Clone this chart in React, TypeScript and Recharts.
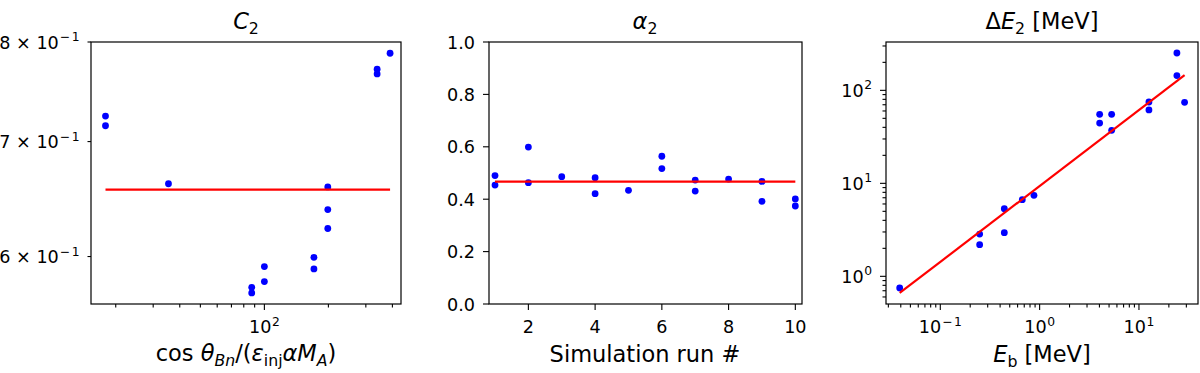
import React from "react";
import { Scatter, ScatterChart, XAxis, YAxis } from "recharts";

const FONT = "DejaVu Sans, Verdana, sans-serif";
const FS = 17.6; // tick labels
const LFS = 22.5; // titles and axis labels

// left panel: C2 vs cos(theta)/(eps alpha M_A)
const c2X = [17.9, 17.9, 35.4, 87.2, 87.2, 100, 100, 171, 171, 198.7, 198.7, 198.7, 339, 339, 390];
const c2Y = [0.7244, 0.715, 0.6615, 0.5757, 0.5714, 0.592, 0.5802, 0.5994, 0.5901, 0.6587, 0.639, 0.623, 0.7713, 0.7665, 0.788];
const c2FitX = [17.9, 390];
const c2FitY = [0.6563, 0.6563];
const c2XTicks = [20, 30, 40, 50, 60, 70, 80, 90, 100, 200, 300, 400];
const c2XLabeled = [100];
const c2YTicks = [0.6, 0.7, 0.8];

// middle panel: alpha2 vs simulation run
const alphaX = [1, 1, 2, 2, 3, 4, 4, 5, 6, 6, 7, 7, 8, 9, 9, 10, 10];
const alphaY = [0.49, 0.454, 0.599, 0.463, 0.486, 0.482, 0.421, 0.434, 0.564, 0.517, 0.473, 0.431, 0.477, 0.468, 0.392, 0.401, 0.374];
const alphaFitX = [1, 10];
const alphaFitY = [0.467, 0.467];
const alphaXTicks = [2, 4, 6, 8, 10];
const alphaYTicks = [0, 0.2, 0.4, 0.6, 0.8, 1.0];

// right panel: Delta E2 vs E_b
const ebX = [0.039, 0.249, 0.249, 0.441, 0.441, 0.669, 0.877, 4.02, 4.02, 5.31, 5.31, 12.6, 12.6, 24.1, 24.1, 28.8];
const dEY = [0.75, 2.85, 2.19, 5.34, 2.95, 6.67, 7.43, 55.2, 44.5, 55.2, 37.2, 74.9, 61.5, 252, 144, 74.3];
const dEFitX = [0.039, 28.8];
const dEFitY = [0.662, 146];
const ebXTicks = [0.03, 0.04, 0.05, 0.06, 0.07, 0.08, 0.09, 0.1, 0.2, 0.3, 0.4, 0.5, 0.6, 0.7, 0.8, 0.9, 1, 2, 3, 4, 5, 6, 7, 8, 9, 10, 20, 30];
const dEYTicks = [0.6, 0.7, 0.8, 0.9, 1, 2, 3, 4, 5, 6, 7, 8, 9, 10, 20, 30, 40, 50, 60, 70, 80, 90, 100, 200, 300];
const logLabeled = [0.1, 1, 10, 100];

const pts = (xs: number[], ys: number[]) => xs.map((x, i) => ({ x, y: ys[i] }));

// superscript exponent, minus drawn as a true minus with a bit of room
const Exp = ({ e }: { e: number }) =>
  e < 0 ? (
    <>
      <tspan dy={-7.5} dx={1} fontSize="70%">
        {"\u2212"}
      </tspan>
      <tspan dx={1.5} fontSize="70%">
        {-e}
      </tspan>
    </>
  ) : (
    <tspan dy={-7.5} dx={0.5} fontSize="70%">
      {e}
    </tspan>
  );

const Pow10 = ({ v }: { v: number }) => (
  <>
    10
    <Exp e={Math.round(Math.log10(v))} />
  </>
);

const SciTenth = ({ v }: { v: number }) => (
  <>
    {Math.round(v * 10)} × 10
    <Exp e={-1} />
  </>
);

const xTick = (labeled: number[] | null, fmt: (v: number) => React.ReactNode) => (props: any) => {
  const { x, y, payload } = props;
  const v = payload.value;
  const major = labeled ? labeled.includes(v) : true;
  return (
    <g>
      <line x1={x} x2={x} y1={y} y2={y + (major ? 6 : 3.5)} stroke="#000" strokeWidth={1.1} />
      {major && (
        <text x={x} y={y + 29} textAnchor="middle" fontSize={FS} fontFamily={FONT} fill="#000">
          {fmt(v)}
        </text>
      )}
    </g>
  );
};

const yTick = (labeled: number[] | null, fmt: (v: number) => React.ReactNode, minorAll = false) => (props: any) => {
  const { x, y, payload } = props;
  const v = payload.value;
  const major = labeled ? labeled.includes(v) : true;
  const len = minorAll ? 3.5 : major ? 6 : 3.5;
  return (
    <g>
      <line x1={x} x2={x - len} y1={y} y2={y} stroke="#000" strokeWidth={1.1} />
      {major && (
        <text x={x - len - 8} y={y + 6.5} textAnchor="end" fontSize={FS} fontFamily={FONT} fill="#000">
          {fmt(v)}
        </text>
      )}
    </g>
  );
};

const Dot = (p: any) => <circle cx={p.cx} cy={p.cy} r={3.4} fill="#0000ff" />;
const NoDot = () => <g />;

interface PanelProps {
  left: number;
  width: number;
  yWidth: number;
  right: number;
  xScale: "log" | "linear";
  yScale: "log" | "linear";
  xDomain: [number, number];
  yDomain: [number, number];
  xTicks: number[];
  yTicks: number[];
  xTickEl: any;
  yTickEl: any;
  data: { x: number; y: number }[];
  fit: { x: number; y: number }[];
}

const Panel = (p: PanelProps) => (
  <div style={{ position: "absolute", left: p.left, top: 0 }}>
    <ScatterChart width={p.width} height={373} margin={{ top: 42, right: p.right, bottom: 0, left: 0 }}>
      <XAxis
        dataKey="x"
        type="number"
        scale={p.xScale}
        domain={p.xDomain}
        allowDataOverflow
        ticks={p.xTicks}
        interval={0}
        axisLine={false}
        tickLine={false}
        tickSize={0}
        tickMargin={0}
        tick={p.xTickEl}
        height={69}
      />
      <YAxis
        dataKey="y"
        type="number"
        scale={p.yScale}
        domain={p.yDomain}
        allowDataOverflow
        ticks={p.yTicks}
        interval={0}
        axisLine={false}
        tickLine={false}
        tickSize={0}
        tickMargin={0}
        tick={p.yTickEl}
        width={p.yWidth}
      />
      <Scatter data={p.data} shape={Dot} isAnimationActive={false} />
      <Scatter
        data={p.fit}
        shape={NoDot}
        line={{ stroke: "#ff0000", strokeWidth: 2.2 }}
        lineType="joint"
        isAnimationActive={false}
      />
    </ScatterChart>
  </div>
);

const Sub = ({ children, italic }: { children: React.ReactNode; italic?: boolean }) => (
  <tspan dy={5} fontSize="70%" fontStyle={italic ? "italic" : "normal"}>
    {children}
  </tspan>
);

export default function App() {
  const txt = { fontSize: LFS, fontFamily: FONT, fill: "#000" };
  return (
    <div style={{ position: "absolute", left: 0, top: 0, width: 1200, height: 373, background: "#fff" }}>
      <Panel
        left={0}
        width={410}
        yWidth={91}
        right={9}
        xScale="log"
        yScale="log"
        xDomain={[15.3, 439]}
        yDomain={[0.563, 0.8]}
        xTicks={c2XTicks}
        yTicks={c2YTicks}
        xTickEl={xTick(c2XLabeled, (v) => <Pow10 v={v} />)}
        yTickEl={yTick(null, (v) => <SciTenth v={v} />, true)}
        data={pts(c2X, c2Y)}
        fit={pts(c2FitX, c2FitY)}
      />
      <Panel
        left={410}
        width={400}
        yWidth={79}
        right={8}
        xScale="linear"
        yScale="linear"
        xDomain={[0.82, 10.2]}
        yDomain={[0, 1]}
        xTicks={alphaXTicks}
        yTicks={alphaYTicks}
        xTickEl={xTick(null, (v) => String(v))}
        yTickEl={yTick(null, (v) => v.toFixed(1))}
        data={pts(alphaX, alphaY)}
        fit={pts(alphaFitX, alphaFitY)}
      />
      <Panel
        left={810}
        width={390}
        yWidth={76}
        right={2}
        xScale="log"
        yScale="log"
        xDomain={[0.0284, 39.3]}
        yDomain={[0.504, 331]}
        xTicks={ebXTicks}
        yTicks={dEYTicks}
        xTickEl={xTick(logLabeled, (v) => <Pow10 v={v} />)}
        yTickEl={yTick(logLabeled, (v) => <Pow10 v={v} />)}
        data={pts(ebX, dEY)}
        fit={pts(dEFitX, dEFitY)}
      />
      <svg
        width={1200}
        height={373}
        style={{ position: "absolute", left: 0, top: 0, pointerEvents: "none" }}
      >
        <g fill="none" stroke="#000" strokeWidth={1.2}>
          <rect x={91} y={42} width={310} height={262} />
          <rect x={489} y={42} width={313} height={262} />
          <rect x={886} y={42} width={312} height={262} />
        </g>
        <text x={246} y={28.5} textAnchor="middle" {...txt}>
          <tspan fontStyle="italic">C</tspan>
          <Sub>2</Sub>
        </text>
        <text x={645} y={28.5} textAnchor="middle" {...txt}>
          <tspan fontStyle="italic">α</tspan>
          <Sub>2</Sub>
        </text>
        <text x={1042} y={28.5} textAnchor="middle" {...txt}>
          Δ<tspan fontStyle="italic">E</tspan>
          <Sub>2</Sub>
          <tspan dy={-5}> [MeV]</tspan>
        </text>
        <text x={246} y={361} textAnchor="middle" {...txt}>
          cos <tspan fontStyle="italic">θ</tspan>
          <Sub italic>Bn</Sub>
          <tspan dy={-5}>/(</tspan>
          <tspan fontStyle="italic">ε</tspan>
          <Sub>inj</Sub>
          <tspan dy={-5} fontStyle="italic">
            αM
          </tspan>
          <Sub italic>A</Sub>
          <tspan dy={-5}>)</tspan>
        </text>
        <text x={645} y={362} textAnchor="middle" {...txt}>
          Simulation run #
        </text>
        <text x={1042} y={362} textAnchor="middle" {...txt}>
          <tspan fontStyle="italic">E</tspan>
          <Sub>b</Sub>
          <tspan dy={-5}> [MeV]</tspan>
        </text>
      </svg>
    </div>
  );
}
